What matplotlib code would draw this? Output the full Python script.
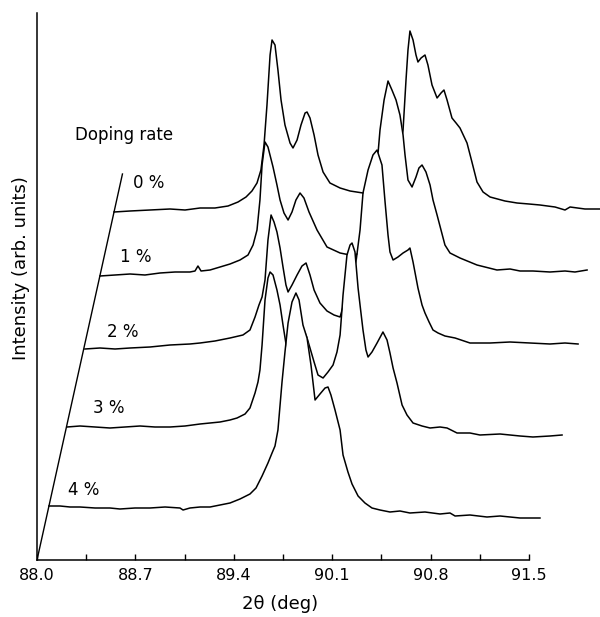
import numpy as np
import matplotlib
matplotlib.use("Agg")
import matplotlib.pyplot as plt

# doping rates, from the back curve (0 %) to the front one (4 %)
doping = ["0 %", "1 %", "2 %", "3 %", "4 %"]

# 2theta (deg) and intensity (arb. units, stacked)
two_theta_0 = [88.548, 88.662, 88.804, 88.946, 89.053, 89.160, 89.266, 89.359, 89.430, 89.487,
               89.529, 89.565, 89.593, 89.615, 89.636, 89.658, 89.672, 89.693, 89.714, 89.736,
               89.764, 89.800, 89.821, 89.850, 89.878, 89.907, 89.921, 89.942, 89.971, 89.999,
               90.035, 90.084, 90.156, 90.227, 90.319, 90.404, 90.511, 90.568, 90.604, 90.625,
               90.639, 90.653, 90.675, 90.696, 90.710, 90.732, 90.760, 90.781, 90.810, 90.846,
               90.874, 90.895, 90.917, 90.952, 90.981, 91.009, 91.059, 91.094, 91.130, 91.173,
               91.223, 91.329, 91.415, 91.500, 91.578, 91.685, 91.756, 91.792, 91.898, 92.005]
intensity_0 = [34.8, 34.9, 35.0, 35.1, 35.0, 35.2, 35.2, 35.4, 35.8, 36.3,
               36.9, 37.7, 39.0, 41.5, 45.5, 50.5, 52.0, 51.5, 49.0, 46.0,
               43.5, 41.7, 41.2, 42.0, 43.5, 44.7, 44.8, 44.2, 42.5, 40.5,
               38.8, 37.7, 37.2, 36.9, 36.7, 36.8, 38.0, 40.0, 43.0, 48.0,
               51.0, 52.9, 52.0, 50.5, 49.8, 50.2, 50.5, 49.5, 47.5, 46.2,
               46.7, 47.0, 46.0, 44.2, 43.7, 43.2, 41.7, 39.8, 37.8, 36.8,
               36.3, 35.9, 35.7, 35.6, 35.5, 35.3, 35.0, 35.3, 35.1, 35.1]

two_theta_1 = [88.448, 88.555, 88.662, 88.768, 88.875, 88.982, 89.088, 89.124, 89.145, 89.167,
               89.231, 89.302, 89.373, 89.444, 89.501, 89.537, 89.565, 89.586, 89.601, 89.622,
               89.643, 89.679, 89.707, 89.729, 89.757, 89.786, 89.814, 89.842, 89.871, 89.899,
               89.935, 89.992, 90.063, 90.156, 90.227, 90.284, 90.340, 90.383, 90.419, 90.440,
               90.469, 90.497, 90.525, 90.554, 90.582, 90.604, 90.618, 90.639, 90.668, 90.696,
               90.717, 90.739, 90.767, 90.796, 90.817, 90.846, 90.874, 90.902, 90.938, 91.009,
               91.130, 91.272, 91.365, 91.436, 91.528, 91.649, 91.756, 91.827, 91.913]
intensity_1 = [28.4, 28.5, 28.6, 28.5, 28.7, 28.8, 28.8, 28.9, 29.4, 28.9,
               29.0, 29.3, 29.6, 30.0, 30.5, 31.5, 33.0, 36.0, 39.5, 41.8,
               41.3, 39.3, 37.5, 36.0, 34.7, 34.0, 34.8, 36.0, 36.7, 36.2,
               34.8, 33.0, 31.3, 30.7, 30.5, 30.6, 32.5, 36.0, 39.5, 43.0,
               46.0, 47.9, 47.0, 46.0, 44.5, 42.5, 40.5, 38.0, 37.3, 38.3,
               39.2, 39.5, 38.8, 37.5, 36.0, 34.5, 33.0, 31.5, 30.7, 30.2,
               29.5, 29.0, 29.1, 28.9, 28.9, 28.8, 28.9, 28.8, 29.0]

two_theta_2 = [88.341, 88.448, 88.555, 88.662, 88.804, 88.946, 89.088, 89.160, 89.266, 89.373,
               89.465, 89.515, 89.551, 89.579, 89.601, 89.622, 89.643, 89.665, 89.686, 89.707,
               89.729, 89.750, 89.771, 89.786, 89.814, 89.850, 89.885, 89.914, 89.942, 89.971,
               90.013, 90.063, 90.113, 90.156, 90.191, 90.227, 90.269, 90.298, 90.319, 90.355,
               90.390, 90.419, 90.454, 90.476, 90.497, 90.511, 90.533, 90.568, 90.604, 90.639,
               90.653, 90.675, 90.710, 90.739, 90.760, 90.789, 90.817, 90.853, 90.902, 90.974,
               91.080, 91.223, 91.365, 91.507, 91.649, 91.756, 91.849]
intensity_2 = [21.1, 21.2, 21.1, 21.2, 21.3, 21.5, 21.6, 21.7, 21.9, 22.2,
               22.5, 23.0, 24.3, 25.5, 26.3, 28.0, 32.0, 34.5, 33.8, 32.8,
               31.2, 29.3, 27.5, 26.8, 27.5, 28.5, 29.4, 29.7, 28.5, 27.0,
               25.7, 24.9, 24.5, 24.3, 26.0, 28.0, 29.8, 33.0, 36.7, 39.0,
               40.5, 41.0, 39.5, 35.8, 32.5, 30.8, 30.0, 30.3, 30.7, 31.0,
               31.2, 29.8, 27.2, 25.5, 24.7, 23.8, 23.0, 22.7, 22.4, 22.2,
               21.7, 21.7, 21.8, 21.7, 21.6, 21.7, 21.6]

two_theta_3 = [88.213, 88.306, 88.413, 88.519, 88.626, 88.733, 88.839, 88.946, 89.053, 89.160,
               89.231, 89.302, 89.373, 89.423, 89.480, 89.515, 89.551, 89.572, 89.586, 89.601,
               89.622, 89.643, 89.658, 89.679, 89.707, 89.729, 89.750, 89.778, 89.814, 89.850,
               89.878, 89.899, 89.921, 89.942, 89.971, 89.999, 90.035, 90.070, 90.106, 90.134,
               90.156, 90.177, 90.205, 90.227, 90.241, 90.262, 90.284, 90.298, 90.319, 90.340,
               90.355, 90.383, 90.419, 90.461, 90.490, 90.511, 90.533, 90.561, 90.597, 90.632,
               90.675, 90.739, 90.796, 90.867, 90.917, 90.988, 91.080, 91.151, 91.294, 91.436,
               91.528, 91.649, 91.735]
intensity_3 = [13.3, 13.4, 13.3, 13.2, 13.3, 13.4, 13.3, 13.3, 13.4, 13.6,
               13.7, 13.8, 14.0, 14.2, 14.6, 15.2, 16.7, 17.8, 19.0, 21.5,
               26.0, 28.2, 28.8, 28.5, 27.0, 25.5, 23.5, 21.0, 19.8, 20.8,
               22.2, 23.0, 22.2, 21.2, 19.8, 18.5, 18.2, 18.8, 19.5, 20.8,
               22.5, 26.5, 30.5, 31.5, 31.7, 30.8, 27.2, 25.5, 23.0, 21.0,
               20.3, 20.8, 21.7, 22.8, 22.0, 20.7, 19.2, 17.7, 15.5, 14.5,
               13.7, 13.4, 13.2, 13.3, 13.2, 12.7, 12.7, 12.5, 12.6, 12.4,
               12.3, 12.4, 12.5]

two_theta_4 = [88.085, 88.164, 88.235, 88.306, 88.413, 88.519, 88.590, 88.697, 88.804, 88.911,
               89.017, 89.039, 89.088, 89.160, 89.231, 89.302, 89.373, 89.444, 89.515, 89.558,
               89.601, 89.643, 89.672, 89.693, 89.714, 89.743, 89.764, 89.786, 89.814, 89.842,
               89.864, 89.892, 89.921, 89.949, 89.978, 90.013, 90.049, 90.070, 90.091, 90.120,
               90.156, 90.177, 90.212, 90.241, 90.284, 90.333, 90.383, 90.440, 90.511, 90.582,
               90.653, 90.760, 90.867, 90.938, 90.974, 91.080, 91.201, 91.294, 91.436, 91.578]
intensity_4 = [5.4, 5.4, 5.3, 5.3, 5.2, 5.2, 5.1, 5.2, 5.2, 5.3,
               5.2, 5.0, 5.2, 5.3, 5.3, 5.5, 5.7, 6.1, 6.6, 7.2,
               8.4, 9.7, 10.7, 11.4, 13.0, 17.8, 20.8, 23.7, 25.8, 26.7,
               26.0, 23.5, 22.2, 19.5, 16.0, 16.6, 17.2, 17.3, 16.5, 15.0,
               13.0, 10.5, 8.8, 7.6, 6.4, 5.7, 5.2, 5.0, 4.8, 4.9,
               4.7, 4.8, 4.6, 4.7, 4.4, 4.5, 4.3, 4.4, 4.2, 4.2]

tick_values = [88.0, 88.7, 89.4, 90.1, 90.8, 91.5]
tick_labels = ["88.0", "88.7", "89.4", "90.1", "90.8", "91.5"]
minor_values = [88.35, 89.05, 89.75, 90.45, 91.15]

curves = [(two_theta_0, intensity_0), (two_theta_1, intensity_1), (two_theta_2, intensity_2),
          (two_theta_3, intensity_3), (two_theta_4, intensity_4)]

fig = plt.figure(figsize=(6.0, 6.17), dpi=100)
ax = fig.add_axes([37 / 600, 57 / 617, 563 / 600, 547 / 617])

# back to front, each curve hides what lies under it (hidden-line waterfall)
for k, (tt, inten) in enumerate(curves):
    z = 2 + 2 * k
    ax.fill_between(tt, inten, 1.0, color="white", lw=0, zorder=z)
    ax.plot(tt, inten, color="black", lw=1.1, zorder=z + 1)

# oblique axis through the start of every curve
top = 38.6
slope = (two_theta_0[0] - 88.0) / intensity_0[0]
ax.plot([88.0, 88.0 + slope * top], [0, top], color="black", lw=1.0, zorder=20)

label_pos = [(88.683, 37.7), (88.590, 30.3), (88.498, 22.8), (88.398, 15.2), (88.221, 7.0)]
for name, (x, y) in zip(doping, label_pos):
    ax.text(x, y, name, fontsize=12, ha="left", va="center", zorder=21)
ax.text(88.270, 42.5, "Doping rate", fontsize=12, ha="left", va="center", zorder=21)

ax.set_xlim(88.0, 92.005)
ax.set_ylim(0, 54.7)
ax.set_yticks([])
ax.set_xticks(tick_values)
ax.set_xticklabels(tick_labels, fontsize=11.5)
ax.set_xticks(minor_values, minor=True)
ax.tick_params(axis="x", which="both", direction="in", length=4, width=1.0, pad=6)
for side in ["top", "right"]:
    ax.spines[side].set_visible(False)
ax.spines["bottom"].set_bounds(88.0, 91.5)
for side in ["left", "bottom"]:
    ax.spines[side].set_linewidth(1.1)
    ax.spines[side].set_zorder(20)

ax.text(0.4316, -0.0804, "2θ (deg)", transform=ax.transAxes, fontsize=13,
        ha="center", va="center")
ax.text(-0.0284, 0.534, "Intensity (arb. units)", transform=ax.transAxes, fontsize=13,
        rotation=90, ha="center", va="center")

fig.savefig("out.png", dpi=100)
